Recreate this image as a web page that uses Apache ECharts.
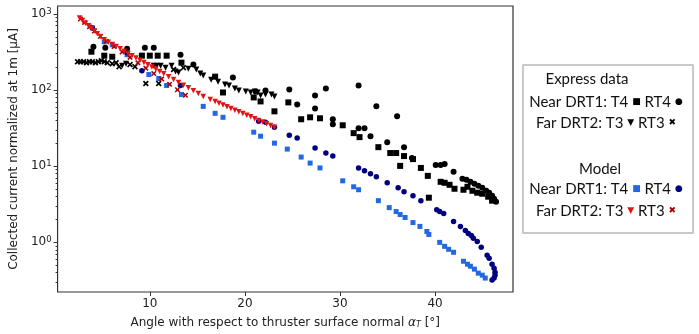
<!DOCTYPE html>
<html>
<head>
<meta charset="utf-8">
<script src="https://cdn.jsdelivr.net/npm/echarts@6/dist/echarts.min.js"></script>
<style>
  html, body { margin: 0; padding: 0; background: #fff; }
  #chart { width: 699px; height: 334px; }
</style>
</head>
<body>
<div id="chart"></div>
<script>
// measured data: [angle (deg), current (uA)]
const expT4 = [[3.86,319],[5.21,283],[6.05,274],[9.17,283],[10.0,283],[10.83,283],[11.77,283],[13.33,229],[16.87,150],[17.70,93.0],[20.93,80.1],[21.65,71.0],[23.11,52.6],[24.57,68.9],[25.92,41.4],[26.86,43.9],[27.90,42.6],[30.29,34.5],[31.44,27.2],[32.06,24.1],[34.04,17.8],[35.29,14.9],[35.91,14.9],[36.33,10.1],[36.74,13.6],[37.68,12.4],[38.51,9.5],[39.24,7.47],[39.35,3.86],[40.59,6.24],[41.01,6.06],[41.53,5.70],[42.05,5.06],[42.99,4.91],[43.41,5.37],[43.93,4.76],[44.44,4.49],[44.97,4.35],[45.59,3.98],[46.00,3.53]]
const expRT4 = [[4.07,370],[5.32,359],[7.61,349],[9.48,359],[10.42,359],[13.23,291],[14.58,216],[18.74,146],[21.13,95.9],[22.17,98.8],[24.67,102],[25.50,64.9],[27.38,85.1],[27.38,57.5],[28.52,105],[29.25,41.4],[29.25,35.6],[31.96,115],[31.96,31.6],[32.58,31.6],[33.21,24.8],[33.83,61.1],[34.97,20.7],[36.01,45.3],[36.74,17.8],[37.57,12.8],[40.07,10.4],[40.59,10.4],[41.01,10.7],[41.95,8.43],[42.88,6.83],[43.30,6.63],[43.72,6.24],[44.14,5.88],[44.55,5.54],[44.97,5.21],[45.38,4.76],[45.69,4.49],[46.00,4.10],[46.21,3.75],[46.42,3.42]]
const expT3 = [[7.09,209],[7.50,222],[10.42,209],[10.73,209],[11.14,209],[11.66,197],[12.29,209],[12.71,175],[13.02,170],[14.06,191],[14.89,186],[15.31,165],[15.62,155],[16.45,137],[17.18,129],[17.91,118],[18.33,115],[18.95,105],[19.36,98.8],[20.09,95.9],[20.61,93.0],[21.03,95.9],[21.34,93.0],[21.65,85.1],[22.17,87.6],[22.80,87.6],[23.11,82.6]]
const expRT3 = [[2.40,236],[2.71,236],[3.03,236],[3.34,229],[3.65,236],[3.96,236],[4.28,229],[4.59,236],[4.90,243],[5.21,236],[5.53,229],[6.05,222],[6.46,229],[6.77,203],[7.92,216],[8.44,203],[9.58,122],[10.94,122],[12.50,186],[13.54,197]]
const modelT4 = [[3.96,655],[5.21,430],[6.05,393],[7.61,291],[9.90,160],[10.94,142],[11.77,115],[13.33,87.6],[15.62,61.1],[16.87,49.5],[17.70,43.9],[20.93,28.0],[21.65,24.8],[23.11,20.1],[24.46,16.8],[25.92,13.2],[26.86,11.0],[27.90,9.5],[30.29,6.43],[31.44,5.37],[31.96,4.91],[34.04,3.53],[35.18,2.86],[35.91,2.54],[36.33,2.32],[36.85,2.12],[37.68,1.82],[38.41,1.62],[39.14,1.39],[39.35,1.27],[40.49,1.00],[41.01,0.887],[41.43,0.811],[41.95,0.741],[42.99,0.565],[43.41,0.517],[43.72,0.486],[44.14,0.445],[44.55,0.394],[44.97,0.371],[45.28,0.340]]
const modelRT4 = [[3.96,655],[7.61,309],[9.17,180],[13.23,115],[21.45,39.0],[22.17,37.8],[23.11,32.5],[24.67,25.6],[25.50,23.4],[27.38,17.3],[28.52,14.9],[29.25,13.6],[31.96,9.5],[32.58,8.69],[33.21,7.94],[33.83,7.25],[34.97,6.06],[36.12,5.21],[36.74,4.62],[37.68,4.10],[38.51,3.53],[40.18,2.69],[40.49,2.54],[40.91,2.39],[41.95,1.88],[42.67,1.62],[43.19,1.43],[43.50,1.31],[43.82,1.23],[44.03,1.13],[44.44,1.03],[44.86,0.861],[45.48,0.677],[45.69,0.619],[46.00,0.517],[46.21,0.458],[46.31,0.406],[46.31,0.371],[46.21,0.340],[46.00,0.320]]
const modelT3 = [[2.61,885],[2.92,818],[3.24,754],[3.55,698],[3.86,643],[4.17,595],[4.48,550],[4.80,507],[5.21,457],[5.63,426],[6.05,398],[6.46,373],[6.88,348],[7.30,324],[7.71,303],[8.13,283],[8.54,264],[8.96,247],[9.38,230],[9.79,215],[10.21,201],[10.63,188],[11.04,175],[11.46,164],[11.98,150],[12.50,138],[13.02,126],[13.54,116],[14.06,107],[14.58,98],[15.10,90],[15.62,82.6],[16.35,75.4],[16.87,70.6],[17.28,67.1],[17.70,63.7],[18.12,60.6],[18.53,57.5],[18.95,54.5],[19.36,51.8],[19.78,49.2],[20.20,46.8],[20.61,44.5],[21.03,42.1],[21.45,40.0],[21.86,38.0],[22.28,36.1],[22.70,34.3],[23.11,32.5]]
const modelRT3 = [[2.71,858],[3.13,773],[3.65,677],[4.17,595],[4.80,507],[5.42,438],[6.25,373],[7.09,317],[7.92,269],[8.75,228],[9.58,194],[10.42,165],[11.25,140],[12.08,119],[12.91,101],[13.75,85.5]]

const xTicks = [10, 20, 30, 40]
const yTicks = [1, 10, 100, 1000]
const yMinorTicks = [0.3,0.4,0.5,0.6,0.7,0.8,0.9,2,3,4,5,6,7,8,9,20,30,40,50,60,70,80,90,200,300,400,500,600,700,800,900]

const crossPath = 'path://M0,2L2,0L5,3L8,0L10,2L7,5L10,8L8,10L5,7L2,10L0,8L3,5Z'

const chart = echarts.init(document.getElementById('chart'))

function scatter(name, data, symbol, color, size, rotate) {
  return {
    name: name,
    type: 'scatter',
    data: data,
    symbol: symbol,
    symbolSize: size,
    symbolRotate: rotate || 0,
    itemStyle: { color: color, opacity: 1 },
    emphasis: { disabled: true },
    animation: false
  }
}

const font = 'DejaVu Sans'
const legendFont = 'Lato'

const option = {
  backgroundColor: '#fff',
  animation: false,
  grid: {
    left: 53, top: 6, right: 186, bottom: 41,
    show: true, borderColor: '#333', borderWidth: 1.2, backgroundColor: 'transparent'
  },
  xAxis: {
    type: 'value',
    min: 0.3,
    max: 48.2,
    name: '{n|Angle with respect to thruster surface normal }{a|α}{t|T}{n| [°]}',
    nameLocation: 'middle',
    nameGap: 25,
    nameTextStyle: {
      rich: {
        n: { fontFamily: font, fontSize: 12, color: '#222' },
        a: { fontFamily: font, fontSize: 12, fontStyle: 'italic', color: '#222' },
        t: { fontFamily: font, fontSize: 8, fontStyle: 'italic', color: '#222', verticalAlign: 'bottom', padding: [4, 0, 0, 0] }
      }
    },
    axisLine: { show: false },
    splitLine: { show: false },
    axisTick: { show: true, length: 4, customValues: xTicks, lineStyle: { color: '#333' } },
    axisLabel: { customValues: xTicks, fontFamily: font, fontSize: 12, color: '#222', margin: 6 }
  },
  yAxis: [
    {
      type: 'log',
      logBase: 10,
      min: 0.223,
      max: 1271,
      name: 'Collected current normalized at 1m [μA]',
      nameLocation: 'middle',
      nameGap: 36,
      nameTextStyle: { fontFamily: font, fontSize: 12, color: '#222' },
      axisLine: { show: false },
      splitLine: { show: false },
      axisTick: { show: true, length: 4, customValues: yTicks, lineStyle: { color: '#333' } },
      axisLabel: {
        customValues: yTicks,
        margin: 6,
        formatter: function (v) {
          return '{b|10}{s|' + Math.round(Math.log10(v)) + '}'
        },
        rich: {
          b: { fontFamily: font, fontSize: 12, color: '#222', lineHeight: 14 },
          s: { fontFamily: font, fontSize: 8.5, color: '#222', verticalAlign: 'top', lineHeight: 10 }
        }
      }
    },
    {
      type: 'log',
      logBase: 10,
      min: 0.223,
      max: 1271,
      position: 'left',
      axisLine: { show: false },
      splitLine: { show: false },
      axisLabel: { show: false },
      axisTick: { show: true, length: 2, customValues: yMinorTicks, lineStyle: { color: '#333' } }
    }
  ],
  series: [
    scatter('Express T4', expT4, 'rect', '#000', 6),
    scatter('Express RT4', expRT4, 'circle', '#000', 6),
    scatter('Express T3', expT3, 'triangle', '#000', 6, 180),
    scatter('Express RT3', expRT3, crossPath, '#000', 6),
    scatter('Model T4', modelT4, 'rect', '#2268e0', 5),
    scatter('Model RT4', modelRT4, 'circle', '#00007f', 5.5),
    scatter('Model RT3', modelRT3, crossPath, '#a80000', 5.5),
    scatter('Model T3', modelT3, 'triangle', '#e01515', 5.5, 180)
  ],
  graphic: [
    { type: 'rect', shape: { x: 523, y: 65, width: 170, height: 168 }, style: { fill: '#fff', stroke: '#b8b8b8', lineWidth: 1.5 } },
    { type: 'text', x: 587, y: 79, style: { text: 'Express data', fontFamily: legendFont, fontSize: 15, fill: '#111', align: 'center', verticalAlign: 'middle' } },
    {
      type: 'text', x: 606, y: 102,
      style: {
        text: 'Near DRT1: T4 {m|■} RT4 {m|●}', fontFamily: legendFont, fontSize: 15, fill: '#111', align: 'center', verticalAlign: 'middle',
        rich: { m: { fill: '#000', fontSize: 9, fontFamily: font } }
      }
    },
    {
      type: 'text', x: 606, y: 123,
      style: {
        text: 'Far DRT2: T3 {m|▼} RT3 {m|✖}', fontFamily: legendFont, fontSize: 15, fill: '#111', align: 'center', verticalAlign: 'middle',
        rich: { m: { fill: '#000', fontSize: 9, fontFamily: font } }
      }
    },
    { type: 'text', x: 600, y: 169, style: { text: 'Model', fontFamily: legendFont, fontSize: 15, fill: '#111', align: 'center', verticalAlign: 'middle' } },
    {
      type: 'text', x: 606, y: 189,
      style: {
        text: 'Near DRT1: T4 {b|■} RT4 {n|●}', fontFamily: legendFont, fontSize: 15, fill: '#111', align: 'center', verticalAlign: 'middle',
        rich: { b: { fill: '#2268e0', fontSize: 9, fontFamily: font }, n: { fill: '#00007f', fontSize: 9, fontFamily: font } }
      }
    },
    {
      type: 'text', x: 606, y: 211,
      style: {
        text: 'Far DRT2: T3 {r|▼} RT3 {d|✖}', fontFamily: legendFont, fontSize: 15, fill: '#111', align: 'center', verticalAlign: 'middle',
        rich: { r: { fill: '#e01515', fontSize: 9, fontFamily: font }, d: { fill: '#a80000', fontSize: 9, fontFamily: font } }
      }
    }
  ]
}

chart.setOption(option)
</script>
</body>
</html>
